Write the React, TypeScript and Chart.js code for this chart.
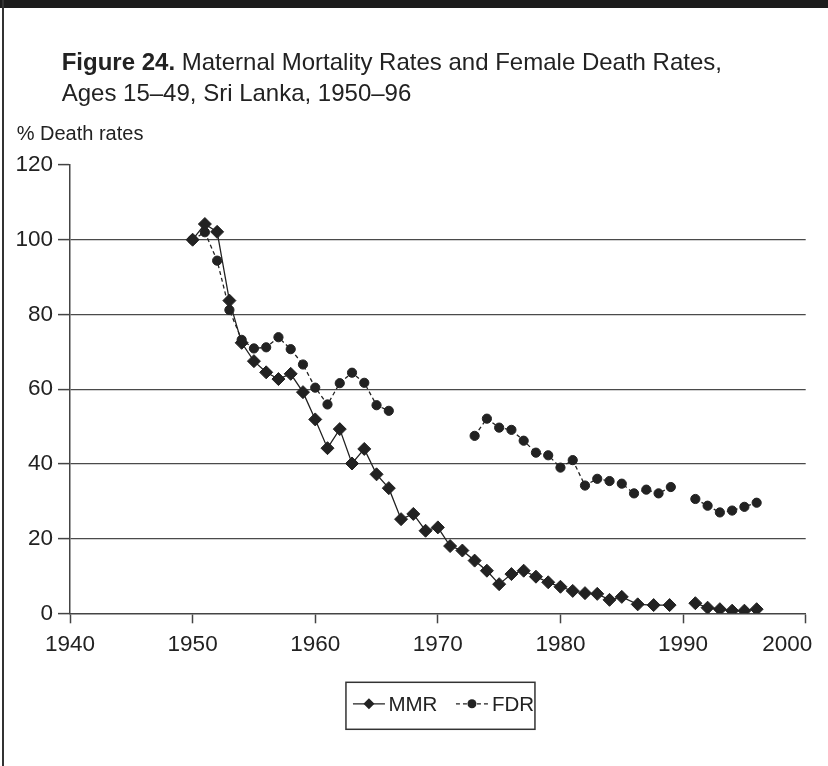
import React, { useEffect, useRef } from 'react';
import { Chart, registerables } from 'chart.js';

Chart.register(...registerables);

// ---- Data ----
const mmrYears = [
  1950, 1951, 1952, 1953, 1954, 1955, 1956, 1957, 1958, 1959,
  1960, 1961, 1962, 1963, 1964, 1965, 1966, 1967, 1968, 1969,
  1970, 1971, 1972, 1973, 1974, 1975, 1976, 1977, 1978, 1979,
  1980, 1981, 1982, 1983, 1984, 1985, 1986.3, 1987.6, 1988.9, 1990,
  1991, 1992, 1993, 1994, 1995, 1996,
];
const mmrValues: (number | null)[] = [
  100, 104.2, 102.1, 83.7, 72.4, 67.5, 64.5, 62.7, 64.1, 59.2,
  51.9, 44.2, 49.3, 40.1, 44.0, 37.2, 33.5, 25.2, 26.6, 22.1,
  23.0, 18.0, 16.8, 14.1, 11.4, 7.8, 10.5, 11.4, 9.8, 8.3,
  7.1, 6.0, 5.4, 5.2, 3.6, 4.4, 2.4, 2.2, 2.2, null,
  2.7, 1.5, 1.1, 0.7, 0.7, 1.1,
];

const fdrYears = [
  1950, 1951, 1952, 1953, 1954, 1955, 1956, 1957, 1958, 1959,
  1960, 1961, 1962, 1963, 1964, 1965, 1966, 1967, 1968, 1969,
  1970, 1971, 1972, 1973, 1974, 1975, 1976, 1977, 1978, 1979,
  1980, 1981, 1982, 1983, 1984, 1985, 1986, 1987, 1988, 1989,
  1990, 1991, 1992, 1993, 1994, 1995, 1996,
];
const fdrValues: (number | null)[] = [
  100, 102, 94.4, 81.2, 73.2, 70.9, 71.2, 73.9, 70.7, 66.6,
  60.4, 55.9, 61.6, 64.4, 61.7, 55.7, 54.2, null, null, null,
  null, null, null, 47.5, 52.1, 49.7, 49.1, 46.2, 43.0, 42.3,
  39.0, 41.0, 34.2, 36.0, 35.4, 34.7, 32.1, 33.1, 32.1, 33.8,
  null, 30.6, 28.8, 27.0, 27.5, 28.5, 29.6,
];

const xTickValues = [1940, 1950, 1960, 1970, 1980, 1990, 2000];
const yTickValues = [0, 20, 40, 60, 80, 100, 120];

const seriesNames = ['MMR', 'FDR'];
const titleBold = 'Figure 24.';
const titleRest = ' Maternal Mortality Rates and Female Death Rates,';
const titleLine2 = 'Ages 15\u201349, Sri Lanka, 1950\u201396';
const yAxisTitle = '% Death rates';

const FONT = "'Liberation Sans', Arial, sans-serif";
const INK = '#222222';
const AXIS = '#444444';

const lastXLabelPlugin = {
  id: 'lastXLabel',
  afterDraw(chart: any) {
    const xs = chart.scales.x;
    const items = xs.getLabelItems();
    if (!items.length) return;
    const ref = items[0];
    const ctx = chart.ctx;
    const last = xTickValues[xTickValues.length - 1];
    const px = xs.getPixelForValue(last);
    ctx.save();
    ctx.font = `22.5px ${FONT}`;
    ctx.fillStyle = INK;
    ctx.textAlign = 'right';
    ctx.textBaseline = ref.options.textBaseline;
    ctx.fillText(String(last), px + 6.5, ref.options.translation[1] + (ref.textOffset || 0));
    ctx.restore();
  },
};

const boxLegendPlugin = {
  id: 'boxLegend',
  afterDraw(chart: any) {
    const { ctx, chartArea } = chart;
    const w = 189;
    const h = 47;
    const cx = (chartArea.left + chartArea.right) / 2 + 2.6;
    const left = cx - w / 2;
    const top = chartArea.bottom + 69;
    const cy = top + 21.5;
    ctx.save();
    ctx.fillStyle = '#ffffff';
    ctx.fillRect(left, top, w, h);
    ctx.strokeStyle = '#333333';
    ctx.lineWidth = 1.5;
    ctx.strokeRect(left, top, w, h);

    ctx.font = `20.5px ${FONT}`;
    ctx.textBaseline = 'middle';
    ctx.textAlign = 'left';

    // MMR item: solid line + diamond
    ctx.strokeStyle = INK;
    ctx.lineWidth = 1.3;
    ctx.setLineDash([]);
    ctx.beginPath();
    ctx.moveTo(left + 7, cy);
    ctx.lineTo(left + 39, cy);
    ctx.stroke();
    const dx = left + 23;
    const r = 5.5;
    ctx.fillStyle = INK;
    ctx.beginPath();
    ctx.moveTo(dx - r, cy);
    ctx.lineTo(dx, cy - r);
    ctx.lineTo(dx + r, cy);
    ctx.lineTo(dx, cy + r);
    ctx.closePath();
    ctx.fill();
    ctx.fillText(chart.data.datasets[0].label, left + 42.5, cy + 1.5);

    // FDR item: dashed line + circle
    ctx.setLineDash([4, 3]);
    ctx.beginPath();
    ctx.moveTo(left + 110, cy);
    ctx.lineTo(left + 142, cy);
    ctx.stroke();
    ctx.setLineDash([]);
    ctx.beginPath();
    ctx.arc(left + 126, cy, 4.5, 0, Math.PI * 2);
    ctx.fill();
    ctx.fillText(chart.data.datasets[1].label, left + 146, cy + 1.5);
    ctx.restore();
  },
};

export default function App() {
  const canvasRef = useRef<HTMLCanvasElement>(null);

  useEffect(() => {
    const canvas = canvasRef.current;
    if (!canvas) return;
    const mmrData = mmrYears.map((x, i) => ({ x, y: mmrValues[i] }));
    const fdrData = fdrYears.map((x, i) => ({ x, y: fdrValues[i] }));

    const chart = new Chart(canvas, {
      type: 'line',
      data: {
        datasets: [
          {
            label: seriesNames[0],
            data: mmrData as any,
            borderColor: INK,
            borderWidth: 1.3,
            backgroundColor: INK,
            pointStyle: 'rectRot',
            pointRadius: 6.5,
            pointBorderWidth: 1,
            pointBorderColor: INK,
            pointBackgroundColor: INK,
            spanGaps: false,
            order: 1,
          },
          {
            label: seriesNames[1],
            data: fdrData as any,
            borderColor: INK,
            borderWidth: 1.3,
            borderDash: [4, 3],
            backgroundColor: INK,
            pointStyle: 'circle',
            pointRadius: 4.6,
            pointBorderWidth: 1,
            pointBorderColor: INK,
            pointBackgroundColor: INK,
            spanGaps: false,
            order: 0,
          },
        ],
      },
      options: {
        responsive: false,
        animation: false,
        events: [],
        layout: { padding: { left: 0, top: 165, right: 22.3, bottom: 0 } },
        plugins: {
          legend: { display: false },
          tooltip: { enabled: false },
          title: { display: false },
        },
        scales: {
          x: {
            type: 'linear',
            min: xTickValues[0],
            max: xTickValues[xTickValues.length - 1],
            afterBuildTicks: (scale: any) => {
              scale.ticks = xTickValues.map((v) => ({ value: v }));
            },
            afterFit: (scale: any) => {
              scale.height = 766 - 613.3;
              scale.paddingLeft = 0;
              scale.paddingRight = 0;
            },
            ticks: {
              color: INK,
              font: { family: FONT, size: 22.5 },
              padding: 8,
              maxRotation: 0,
              autoSkip: false,
              callback: (v: any) =>
                v === xTickValues[xTickValues.length - 1] ? '' : String(v),
            },
            grid: {
              drawOnChartArea: false,
              drawTicks: true,
              tickLength: 10,
              tickColor: AXIS,
              tickWidth: 1.5,
            },
            border: { display: true, color: AXIS, width: 1.5 },
          },
          y: {
            type: 'linear',
            min: yTickValues[0],
            max: yTickValues[yTickValues.length - 1],
            afterBuildTicks: (scale: any) => {
              scale.ticks = yTickValues.map((v) => ({ value: v }));
            },
            afterFit: (scale: any) => {
              scale.width = 70;
            },
            ticks: {
              color: INK,
              font: { family: FONT, size: 22.5 },
              padding: 5,
              autoSkip: false,
              callback: (v: any) => String(v),
            },
            grid: {
              drawOnChartArea: true,
              drawTicks: true,
              tickLength: 12,
              tickColor: AXIS,
              tickWidth: 1.5,
              lineWidth: 1.2,
              color: (ctx: any) =>
                ctx.tick &&
                (ctx.tick.value === yTickValues[0] ||
                  ctx.tick.value === yTickValues[yTickValues.length - 1])
                  ? 'rgba(0,0,0,0)'
                  : '#4a4a4a',
            },
            border: { display: true, color: AXIS, width: 1.5 },
          },
        },
      },
      plugins: [lastXLabelPlugin, boxLegendPlugin],
    });
    return () => chart.destroy();
  }, []);

  return (
    <div
      style={{
        position: 'absolute',
        left: 0,
        top: 0,
        width: 828,
        height: 766,
        background: '#ffffff',
        overflow: 'hidden',
        fontFamily: FONT,
        color: INK,
      }}
    >
      <canvas
        ref={canvasRef}
        width={828}
        height={766}
        style={{ position: 'absolute', left: 0, top: 0, width: 828, height: 766 }}
      />
      <div
        style={{ position: 'absolute', left: 0, top: 0, width: 828, height: 8, background: '#1c1c1c' }}
      />
      <div
        style={{ position: 'absolute', left: 2, top: 0, width: 1.5, height: 766, background: '#333333' }}
      />
      <div
        style={{
          position: 'absolute',
          left: 61.7,
          top: 50.3,
          fontSize: 24,
          lineHeight: '24px',
          whiteSpace: 'nowrap',
        }}
      >
        <b>{titleBold}</b>
        {titleRest}
      </div>
      <div
        style={{
          position: 'absolute',
          left: 61.7,
          top: 81.3,
          fontSize: 24,
          lineHeight: '24px',
          whiteSpace: 'nowrap',
        }}
      >
        {titleLine2}
      </div>
      <div
        style={{
          position: 'absolute',
          left: 16.7,
          top: 123.3,
          fontSize: 20,
          lineHeight: '20px',
          whiteSpace: 'nowrap',
        }}
      >
        {yAxisTitle}
      </div>
    </div>
  );
}
